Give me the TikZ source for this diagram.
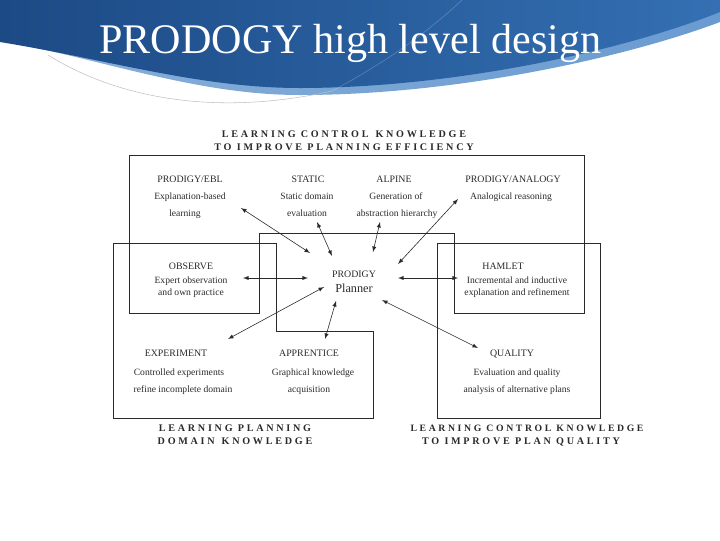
\documentclass[tikz,border=0pt]{standalone}
\usepackage{fontspec}
\setmainfont{Liberation Serif}
\newfontfamily\spacedfont[LetterSpace=27]{Liberation Serif}
\usetikzlibrary{arrows}

\definecolor{bannerdark}{HTML}{1C4A85}
\definecolor{bannerlight}{HTML}{3470B3}
\definecolor{bandblue}{HTML}{6A9BD0}
\definecolor{ink}{HTML}{2A2A2A}

\begin{document}
\begin{tikzpicture}[x=0.75pt, y=-0.75pt,
    head/.style={
        anchor=base,
        inner sep=0pt,
        font=\fontsize{7.4}{9}\selectfont,
        text=ink
    },
    desc/.style={
        anchor=base,
        inner sep=0pt,
        font=\fontsize{7.2}{9}\selectfont,
        text=ink
    },
    caption/.style={
        anchor=base,
        inner sep=0pt,
        font=\spacedfont\bfseries\fontsize{7.6}{9}\selectfont,
        text=ink
    },
    region/.style={
        draw=ink,
        line width=0.6pt
    },
    link/.style={
        <->,
        >=latex,
        line width=0.45pt,
        ink
    }
]
    \useasboundingbox (0,0) rectangle (720,540);

    % Title banner
    \shade[left color=bandblue!80!white, right color=bandblue]
        (0,40) .. controls (110,62) and (200,95) .. (300,95)
        .. controls (460,95) and (630,56) .. (720,22) -- (720,0) -- (0,0) -- cycle;
    \shade[left color=bannerdark, right color=bannerlight]
        (0,0) -- (0,42) .. controls (110,60) and (200,88) .. (300,88)
        .. controls (450,88) and (620,52) .. (720,12) -- (720,0) -- cycle;
    \draw[gray!50, line width=0.4pt] (48,55) .. controls (120,100) and (220,116) .. (332,91);
    \draw[white, opacity=0.25, line width=0.4pt] (332,91) .. controls (390,60) and (430,30) .. (462,0);
    \node[anchor=base west, inner sep=0pt, text=white, font=\fontsize{31.6}{36}\selectfont]
        (title) at (99,53) {PRODOGY high level design};

    % Knowledge regions
    \draw[region] (129,155) -- (584,155) -- (584,313) -- (454,313) -- (454,233)
        -- (259,233) -- (259,313) -- (129,313) -- cycle;
    \draw[region] (113,243) -- (276,243) -- (276,331) -- (373,331) -- (373,418)
        -- (113,418) -- cycle;
    \draw[region] (437,243) -- (600,243) -- (600,418) -- (437,418) -- cycle;

    % Region captions
    \node[caption] (effA) at (344,137) {LEARNING CONTROL\, KNOWLEDGE};
    \node[caption] (effB) at (344,150) {TO IMPROVE PLANNING EFFICIENCY};
    \node[caption] (domA) at (235,431) {LEARNING PLANNING};
    \node[caption] (domB) at (235,444) {DOMAIN\, KNOWLEDGE};
    \node[caption, font=\spacedfont\bfseries\fontsize{7.3}{9}\selectfont]
        (qualA) at (527,431) {LEARNING CONTROL KNOWLEDGE};
    \node[caption] (qualB) at (521,444) {TO IMPROVE PLAN QUALITY};

    % Learning modules, top row
    \node[head] (ebl) at (190,182) {PRODIGY/EBL};
    \node[desc] (eblA) at (190,199) {Explanation-based};
    \node[desc] (eblB) at (185,216) {learning};
    \node[head] (static) at (308,182) {STATIC};
    \node[desc] (staticA) at (307,199) {Static domain};
    \node[desc] (staticB) at (307,216) {evaluation};
    \node[head] (alpine) at (394,182) {ALPINE};
    \node[desc] (alpineA) at (396,199) {Generation of};
    \node[desc] (alpineB) at (397,216) {abstraction hierarchy};
    \node[head] (analogy) at (513,182) {PRODIGY/ANALOGY};
    \node[desc] (analogyA) at (511,199) {Analogical reasoning};

    % Middle row
    \node[head] (observe) at (191,269) {OBSERVE};
    \node[desc] (observeA) at (191,283) {Expert observation};
    \node[desc] (observeB) at (191,295) {and own practice};
    \node[head] (prodigy) at (354,277) {PRODIGY};
    \node[anchor=base, inner sep=0pt, text=ink, font=\fontsize{9.2}{11}\selectfont]
        (planner) at (354,292) {Planner};
    \node[head] (hamlet) at (503,269) {HAMLET};
    \node[desc] (hamletA) at (517,283) {Incremental and inductive};
    \node[desc] (hamletB) at (517,295) {explanation and refinement};

    % Bottom row
    \node[head] (experiment) at (176,356) {EXPERIMENT};
    \node[desc] (experimentA) at (179,375) {Controlled experiments};
    \node[desc] (experimentB) at (183,392) {refine incomplete domain};
    \node[head] (apprentice) at (309,356) {APPRENTICE};
    \node[desc] (apprenticeA) at (313,375) {Graphical knowledge};
    \node[desc] (apprenticeB) at (309,392) {acquisition};
    \node[head] (quality) at (512,356) {QUALITY};
    \node[desc] (qualityA) at (517,375) {Evaluation and quality};
    \node[desc] (qualityB) at (517,392) {analysis of alternative plans};

    % Arrow ends
    \coordinate (eblEnd) at (241,208);
    \coordinate (eblTip) at (310,253);
    \coordinate (staticEnd) at (317,222);
    \coordinate (staticTip) at (332,256);
    \coordinate (alpineEnd) at (380,222);
    \coordinate (alpineTip) at (373,252);
    \coordinate (analogyEnd) at (458,199);
    \coordinate (analogyTip) at (398,264);
    \coordinate (observeEnd) at (243,278);
    \coordinate (observeTip) at (308,278);
    \coordinate (hamletEnd) at (458,278);
    \coordinate (hamletTip) at (398,278);
    \coordinate (experimentEnd) at (228,339);
    \coordinate (experimentTip) at (324,287);
    \coordinate (apprenticeEnd) at (325,339);
    \coordinate (apprenticeTip) at (336,301);
    \coordinate (qualityEnd) at (478,348);
    \coordinate (qualityTip) at (382,300);

    % Exchanges with the planner
    \draw[link] (eblEnd) -- (eblTip);
    \draw[link] (staticEnd) -- (staticTip);
    \draw[link] (alpineEnd) -- (alpineTip);
    \draw[link] (analogyEnd) -- (analogyTip);
    \draw[link] (observeEnd) -- (observeTip);
    \draw[link] (hamletEnd) -- (hamletTip);
    \draw[link] (experimentEnd) -- (experimentTip);
    \draw[link] (apprenticeEnd) -- (apprenticeTip);
    \draw[link] (qualityEnd) -- (qualityTip);
\end{tikzpicture}
\end{document}
